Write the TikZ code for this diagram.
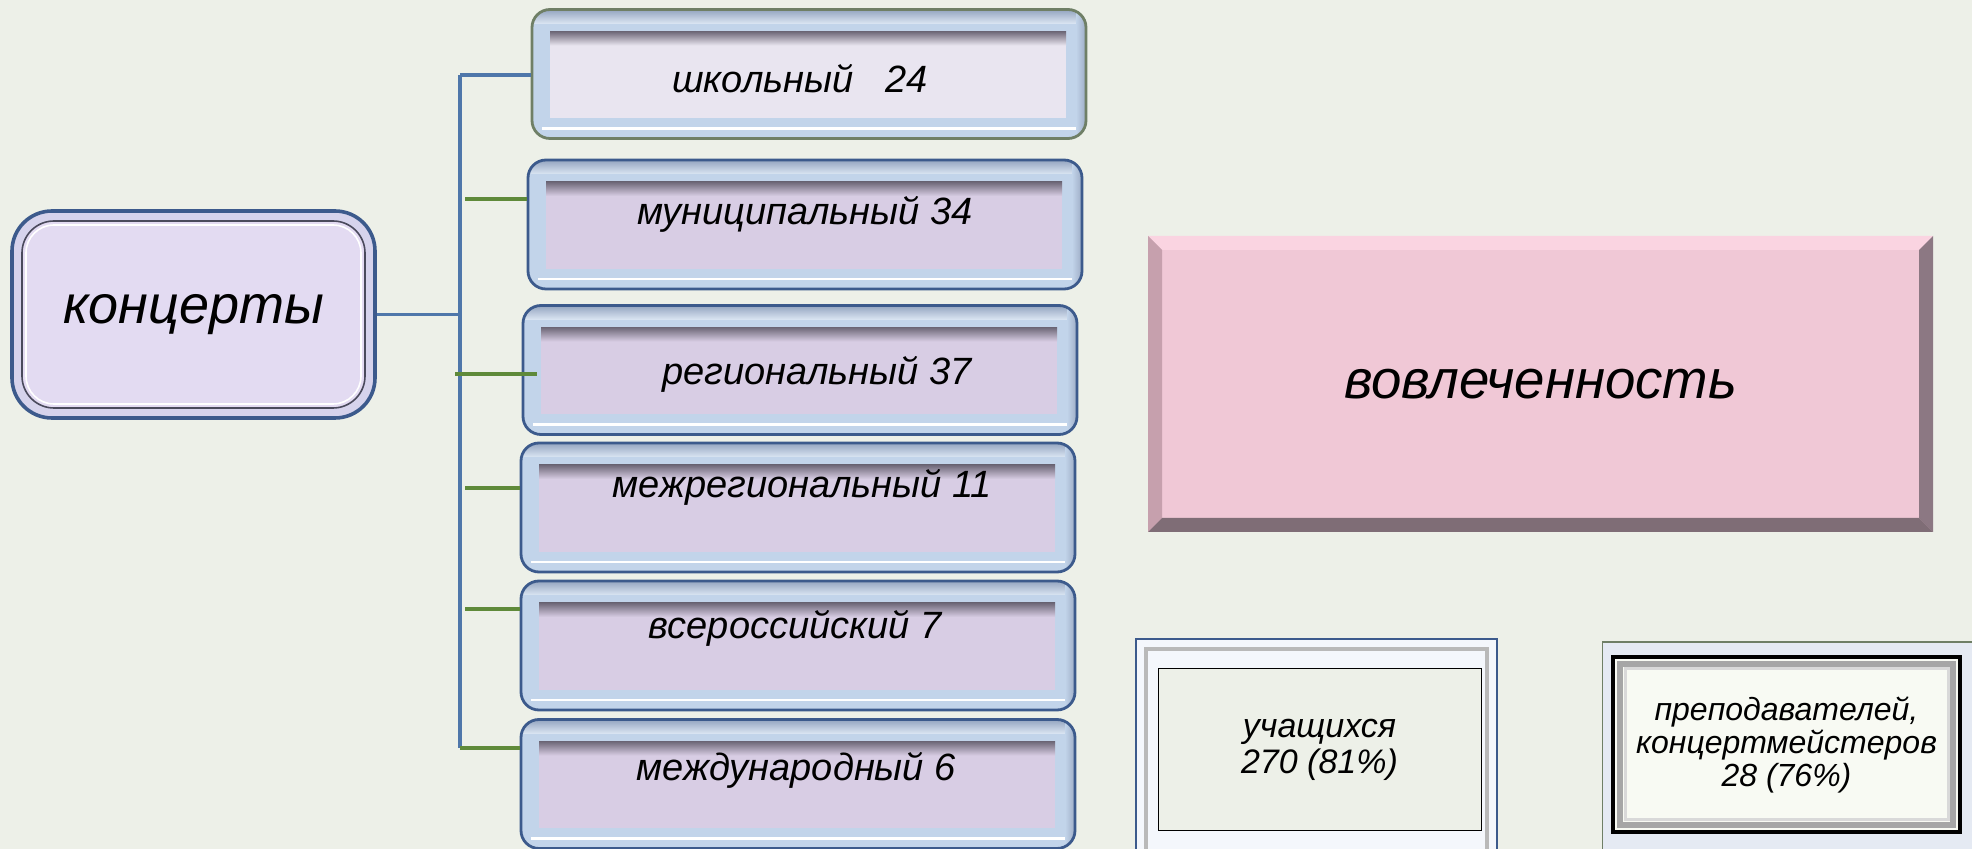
\documentclass[tikz,border=0pt]{standalone}
\usepackage{fontspec}
\setmainfont{Liberation Sans}
\usepackage{tikz}
\usetikzlibrary{
  positioning,
  calc
}
\definecolor{pagebg}{HTML}{EDF0E8}
\definecolor{frameblue}{HTML}{3C5A8C}
\definecolor{framelight}{HTML}{C2D4EA}
\definecolor{lilacpanel}{HTML}{D8CDE4}
\definecolor{palepanel}{HTML}{E9E5F0}
\definecolor{panelshadow}{HTML}{6E6878}
\definecolor{olivegray}{HTML}{6F7F66}
\definecolor{konframe}{HTML}{D6D3EC}
\definecolor{konfill}{HTML}{E3DBF2}
\definecolor{konline}{HTML}{4A4A5C}
\definecolor{trunkblue}{HTML}{4F77AA}
\definecolor{branchgreen}{HTML}{5F8A3A}
\definecolor{pinkface}{HTML}{F0C8D6}
\definecolor{pinktop}{HTML}{FAD4E1}
\definecolor{pinkleft}{HTML}{C6A0AD}
\definecolor{pinkright}{HTML}{8C7883}
\definecolor{pinkbottom}{HTML}{7F6D76}
\definecolor{stuframe}{HTML}{F4F7FC}
\definecolor{tchframe}{HTML}{E5EAF3}
\definecolor{tchfill}{HTML}{F8FAF3}

\begin{document}
\begin{tikzpicture}[x=0.5pt,y=-0.5pt,
    levelbox/.style={draw=frameblue,line width=1.4pt,fill=framelight,rounded corners=9pt,
      minimum width=277pt,minimum height=64.5pt,inner sep=0pt,
      path picture={
        \coordinate (pnw) at (path picture bounding box.north west);
        \coordinate (pne) at (path picture bounding box.north east);
        \coordinate (psw) at (path picture bounding box.south west);
        \coordinate (pse) at (path picture bounding box.south east);
        \shade[sharp corners,top color=frameblue!55,bottom color=framelight!60!white] (pnw) rectangle ([yshift=-7pt]pne);
        \fill[sharp corners,#1] ([xshift=9pt,yshift=-11pt]pnw) rectangle ([xshift=-10pt,yshift=10pt]pse);
        \shade[sharp corners,top color=panelshadow,bottom color=#1] ([xshift=9pt,yshift=-11pt]pnw) rectangle ([xshift=-10pt,yshift=-18pt]pne);
        \draw[sharp corners,white,line width=1.4pt] ([xshift=5pt,yshift=5pt]psw) -- ([xshift=-5pt,yshift=5pt]pse);
        \shade[sharp corners,left color=framelight,right color=frameblue!50] ([xshift=-5pt]pne) rectangle (pse);
      }},
    levelbox/.default=lilacpanel,
    leveltext/.style={font=\itshape\fontsize{19}{22}\selectfont,inner sep=0pt},
    konbox/.style={draw=frameblue,line width=1.8pt,fill=konframe,rounded corners=20pt,
      minimum width=181.5pt,minimum height=103.5pt,font=\itshape\fontsize{27}{31}\selectfont,
      path picture={
        \draw[rounded corners=16pt,draw=konline,line width=0.8pt,fill=konfill]
          ([xshift=5pt,yshift=-5pt]path picture bounding box.north west) rectangle
          ([xshift=-5pt,yshift=5pt]path picture bounding box.south east);
        \draw[rounded corners=14pt,draw=white,line width=0.8pt]
          ([xshift=7pt,yshift=-7pt]path picture bounding box.north west) rectangle
          ([xshift=-7pt,yshift=7pt]path picture bounding box.south east);
      }},
    bevelbox/.style={fill=pinkface,minimum width=392.5pt,minimum height=148pt,
      font=\itshape\fontsize{27.3}{31}\selectfont,
      path picture={
        \coordinate (pnw) at (path picture bounding box.north west);
        \coordinate (pne) at (path picture bounding box.north east);
        \coordinate (psw) at (path picture bounding box.south west);
        \coordinate (pse) at (path picture bounding box.south east);
        \fill[pinktop] (pnw) -- (pne) -- ([xshift=-7pt,yshift=-7pt]pne) -- ([xshift=7pt,yshift=-7pt]pnw) -- cycle;
        \fill[pinkleft] (pnw) -- (psw) -- ([xshift=7pt,yshift=7pt]psw) -- ([xshift=7pt,yshift=-7pt]pnw) -- cycle;
        \fill[pinkright] (pne) -- (pse) -- ([xshift=-7pt,yshift=7pt]pse) -- ([xshift=-7pt,yshift=-7pt]pne) -- cycle;
        \fill[pinkbottom] (psw) -- (pse) -- ([xshift=-7pt,yshift=7pt]pse) -- ([xshift=7pt,yshift=7pt]psw) -- cycle;
      }},
    smalltext/.style={align=center,font=\itshape\fontsize{17}{18}\selectfont},
    trunk/.style={draw=trunkblue,line width=1.6pt},
    branch/.style={draw=branchgreen,line width=1.7pt}
  ]
  \useasboundingbox (0,0) rectangle (1972,849);
  \clip (0,0) rectangle (1972,849);
  \fill[pagebg] (0,0) rectangle (1972,849);

  % left hub
  \node[konbox] (kon) at (193.5,314.5) {концерты};

  % levels
  \node[levelbox=palepanel,draw=olivegray] (b1) at (809,74) {};
  \node[levelbox] (b2) at (805,224.5) {};
  \node[levelbox] (b3) at (800,370) {};
  \node[levelbox] (b4) at (798,507.5) {};
  \node[levelbox] (b5) at (798,645.5) {};
  \node[levelbox] (b6) at (798,784) {};
  \node[leveltext] (b1t) at ($(b1)+(-9,5)$) {школьный\ \ \ 24};
  \node[leveltext] (b2t) at ($(b2)+(0,-10)$) {муниципальный 34};
  \node[leveltext] (b3t) at ($(b3)+(17,4)$) {региональный 37};
  \node[leveltext] (b4t) at ($(b4)+(4,-20)$) {межрегиональный 11};
  \node[leveltext] (b5t) at ($(b5)+(-3,-17)$) {всероссийский 7};
  \node[leveltext] (b6t) at ($(b6)+(-2,-14)$) {международный 6};

  % tree lines
  \coordinate (ttop) at (460,75);
  \coordinate (tbot) at (460,748);
  \coordinate (j2) at (465,199);
  \coordinate (j3) at (455,374);
  \coordinate (j4) at (465,488);
  \coordinate (j5) at (465,609);
  \draw[trunk] (kon.east) -- (kon.east -| ttop);
  \draw[trunk] (ttop) -- (tbot);
  \draw[trunk] (ttop) -- (ttop -| b1.west);
  \draw[branch] (j2) -- (j2 -| b2.west);
  \draw[branch] (j3) -- ($(j3 -| b3.west)+(15,0)$);
  \draw[branch] (j4) -- (j4 -| b4.west);
  \draw[branch] (j5) -- (j5 -| b5.west);
  \draw[branch] (tbot) -- (tbot -| b6.west);

  % right part
  \node[bevelbox] (inv) at (1540.5,384) {вовлеченность};

  \node[draw=frameblue,line width=0.8pt,fill=stuframe,minimum width=180.5pt,minimum height=113pt,
    path picture={\draw[gray!55,line width=1.6pt]
      ([xshift=5pt,yshift=-5pt]path picture bounding box.north west) rectangle
      ([xshift=-5pt,yshift=5pt]path picture bounding box.south east);}] (stuf) at (1316.5,752) {};
  \node[draw=black,line width=0.5pt,fill=pagebg,minimum width=161.5pt,minimum height=81pt,smalltext] (stu)
    at (1319.5,750) {учащихся\\270 (81\%)};

  \node[draw=olivegray,line width=0.8pt,fill=tchframe,minimum width=193.5pt,minimum height=114pt] (tchf) at (1796,756) {};
  \node[draw=black,line width=2pt,fill=tchfill,minimum width=173.5pt,minimum height=87.5pt,
    smalltext,font=\itshape\fontsize{16}{16.5}\selectfont,
    path picture={\draw[gray!70,line width=3pt]
      ([xshift=3.5pt,yshift=-3.5pt]path picture bounding box.north west) rectangle
      ([xshift=-3.5pt,yshift=3.5pt]path picture bounding box.south east);
      \draw[gray!30,line width=1.5pt]
      ([xshift=6pt,yshift=-6pt]path picture bounding box.north west) rectangle
      ([xshift=-6pt,yshift=6pt]path picture bounding box.south east);}] (tch)
    at (1786.5,744.5) {преподавателей,\\концертмейстеров\\28 (76\%)};
\end{tikzpicture}
\end{document}
